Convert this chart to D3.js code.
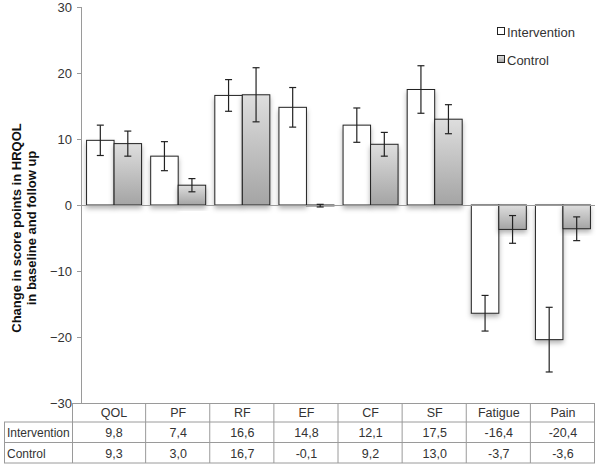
<!DOCTYPE html>
<html><head><meta charset="utf-8">
<script src="https://cdn.jsdelivr.net/npm/d3@7"></script>
<style>
html,body{margin:0;padding:0;background:#fff;}
svg{display:block;font-family:"Liberation Sans",Arial,sans-serif;}
</style></head>
<body>
<svg id="chart" width="598" height="465"></svg>
<script>
const categories = ["QOL","PF","RF","EF","CF","SF","Fatigue","Pain"];
const seriesNames = ["Intervention","Control"];
const intervention = [9.8,7.4,16.6,14.8,12.1,17.5,-16.4,-20.4];
const control = [9.3,3.0,16.7,-0.1,9.2,13.0,-3.7,-3.6];
const interventionErr = [2.3,2.2,2.4,3.0,2.6,3.6,2.7,4.9];
const controlErr = [1.9,1.0,4.1,0.2,1.8,2.2,2.1,1.8];
const yTicks = [-30,-20,-10,0,10,20,30];

(function(){
const FONT = "Liberation Sans, Arial, sans-serif";
const svg = d3.select("#chart");
const defs = svg.append("defs");
const grad = defs.append("linearGradient").attr("id","ctrlGrad")
  .attr("x1",0).attr("y1",0).attr("x2",0).attr("y2",1);
grad.append("stop").attr("offset","0%").attr("stop-color","#dedede");
grad.append("stop").attr("offset","100%").attr("stop-color","#a4a4a4");
const f = defs.append("filter").attr("id","shadow").attr("x","-30%").attr("y","-30%").attr("width","160%").attr("height","160%");
f.append("feDropShadow").attr("dx",0).attr("dy",3).attr("stdDeviation",2.5)
  .attr("flood-color","#000").attr("flood-opacity",0.3);

const pLeft = 82, pRight = 595, pTop = 7, pBottom = 403;
const x = d3.scaleBand().domain(categories).range([pLeft,pRight]);
const y = d3.scaleLinear().domain([-30,30]).range([pBottom,pTop]);
const barW = 27.5;
const off = (x.bandwidth() - 2*barW)/2;

// y axis
const yAxis = d3.axisLeft(y).tickValues(yTicks).tickSize(5).tickPadding(5).tickFormat(d3.format("d"));
const ga = svg.append("g").attr("transform",`translate(${pLeft},0)`).call(yAxis).attr("font-family",FONT);
ga.select(".domain").attr("stroke","#9a9a9a").attr("d",`M-0.5,${pTop}V${pBottom}`);
ga.selectAll(".tick line").attr("stroke","#9a9a9a");
ga.selectAll(".tick text").attr("font-size","13px").attr("fill","#333");

// bars
const data = categories.map((c,i)=>({c, vals:[
  {s:0, v:intervention[i], e:interventionErr[i]},
  {s:1, v:control[i], e:controlErr[i]}]}));

const barsG = svg.append("g");
data.forEach(d=>{
  d.vals.forEach(v=>{
    const bx = x(d.c) + off + v.s*barW;
    const y0 = y(0), y1 = y(v.v);
    barsG.append("rect")
      .attr("x",bx).attr("y",Math.min(y0,y1))
      .attr("width",barW).attr("height",Math.max(0.8,Math.abs(y1-y0)))
      .attr("fill", v.s===0 ? "#fff" : "url(#ctrlGrad)")
      .attr("stroke","#222").attr("stroke-width",1)
      .attr("filter","url(#shadow)");
  });
});

// zero line
svg.append("line").attr("x1",pLeft).attr("x2",pRight).attr("y1",y(0)+0.5).attr("y2",y(0)+0.5)
  .attr("stroke","#9a9a9a");

// error bars
const errG = svg.append("g").attr("stroke","#222").attr("stroke-width",1.2);
data.forEach(d=>{
  d.vals.forEach(v=>{
    const cx = x(d.c) + off + v.s*barW + barW/2;
    const yt = y(v.v+v.e), yb = y(v.v-v.e);
    errG.append("line").attr("x1",cx).attr("x2",cx).attr("y1",yt).attr("y2",yb);
    errG.append("line").attr("x1",cx-3.5).attr("x2",cx+3.5).attr("y1",yt).attr("y2",yt);
    errG.append("line").attr("x1",cx-3.5).attr("x2",cx+3.5).attr("y1",yb).attr("y2",yb);
  });
});

// y title
const tt = svg.append("text").attr("transform","translate(21,228) rotate(-90)")
  .attr("text-anchor","middle").attr("font-size","13px").attr("font-weight","bold").attr("fill","#111")
  .attr("font-family",FONT);
tt.append("tspan").attr("x",0).attr("dy",0).text("Change in score points in HRQOL");
tt.append("tspan").attr("x",0).attr("dy",15).text("in baseline and follow up");

// legend
const lg = svg.append("g").attr("font-family",FONT);
seriesNames.forEach((n,i)=>{
  const ly = 33 + i*28;
  lg.append("rect").attr("x",497.5).attr("y",ly-5.5).attr("width",7).attr("height",7)
    .attr("fill", i===0 ? "#fff" : "url(#ctrlGrad)").attr("stroke","#222");
  lg.append("text").attr("x",507).attr("y",ly+4).attr("font-size","13px").attr("fill","#333").text(n);
});

// data table
const fmt = v => d3.format(".1f")(v).replace(".",",").replace("−","-");
const rowTop = pBottom, rowH = [19, 20.5, 20.5];
const rowY = [rowTop, rowTop+rowH[0], rowTop+rowH[0]+rowH[1], rowTop+rowH[0]+rowH[1]+rowH[2]];
const tg = svg.append("g").attr("font-family",FONT);
const lineC = "#9a9a9a";
const labX0 = 4, labX1 = 72;
tg.append("line").attr("x1",labX1).attr("x2",pRight).attr("y1",rowY[0]+0.5).attr("y2",rowY[0]+0.5).attr("stroke",lineC);
[1,2,3].forEach(k=>{
  tg.append("line").attr("x1",labX0).attr("x2",pRight).attr("y1",rowY[k]).attr("y2",rowY[k]).attr("stroke",lineC);
});
tg.append("line").attr("x1",labX0+0.5).attr("x2",labX0+0.5).attr("y1",rowY[1]).attr("y2",rowY[3]).attr("stroke",lineC);
tg.append("line").attr("x1",labX1+0.5).attr("x2",labX1+0.5).attr("y1",rowY[0]).attr("y2",rowY[3]).attr("stroke",lineC);
categories.forEach(c=>{
  const xr = x(c)+x.bandwidth();
  tg.append("line").attr("x1",xr-0.5).attr("x2",xr-0.5).attr("y1",rowY[0]).attr("y2",rowY[3]).attr("stroke",lineC);
});
const fs = "12.5px";
categories.forEach((c,i)=>{
  const cx = x(c)+x.bandwidth()/2;
  tg.append("text").attr("x",cx).attr("y",rowY[0]+14).attr("text-anchor","middle").attr("font-size",fs).attr("fill","#333").text(c);
  tg.append("text").attr("x",cx).attr("y",rowY[1]+15).attr("text-anchor","middle").attr("font-size",fs).attr("fill","#333").text(fmt(intervention[i]));
  tg.append("text").attr("x",cx).attr("y",rowY[2]+15).attr("text-anchor","middle").attr("font-size",fs).attr("fill","#333").text(fmt(control[i]));
});
seriesNames.forEach((n,i)=>{
  tg.append("text").attr("x",7).attr("y",rowY[i+1]+15).attr("font-size","12px").attr("fill","#333").text(n);
});
})();
</script>
</body></html>
